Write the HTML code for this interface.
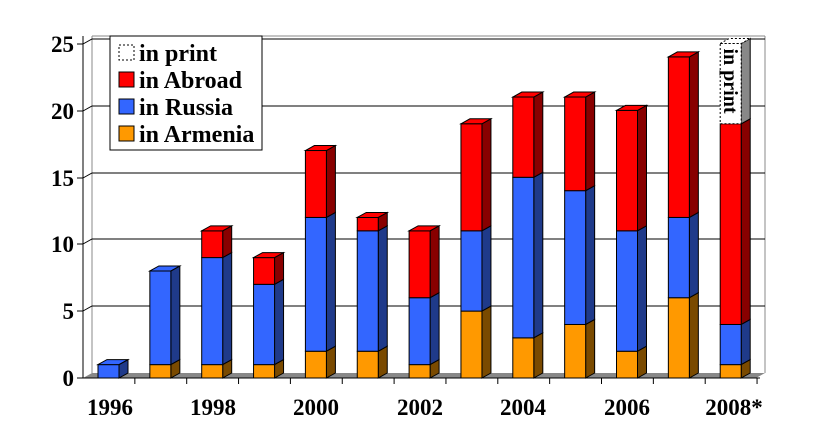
<!DOCTYPE html>
<html><head><style>body{margin:0;background:#fff}svg{display:block}text{font-family:"Liberation Serif",serif;font-weight:bold}</style></head><body>
<svg width="822" height="436" xmlns="http://www.w3.org/2000/svg">
<g stroke="#888" stroke-width="1" fill="none">
<line x1="92" y1="36" x2="92" y2="373"/>
<line x1="92" y1="36" x2="765" y2="36"/>
<line x1="765" y1="36" x2="765" y2="373"/>
</g>
<g stroke="#000" stroke-width="1">
<polyline points="83,44 92,39 765,39" fill="none"/>
<polyline points="83,111 92,106 765,106" fill="none"/>
<polyline points="83,178 92,173 765,173" fill="none"/>
<polyline points="83,244 92,239 765,239" fill="none"/>
<polyline points="83,311 92,306 765,306" fill="none"/>
</g>
<polygon points="83,378 92,373 765,373 756,378" fill="#888"/>
<line x1="83" y1="36" x2="83" y2="378" stroke="#000"/>
<line x1="83" y1="378" x2="760" y2="378" stroke="#000"/>
<g stroke="#000">
<line x1="77" y1="44" x2="83" y2="44"/><line x1="77" y1="111" x2="83" y2="111"/><line x1="77" y1="178" x2="83" y2="178"/><line x1="77" y1="244" x2="83" y2="244"/><line x1="77" y1="311" x2="83" y2="311"/><line x1="77" y1="378" x2="83" y2="378"/>
</g>
<g id="ticks" stroke="#000"></g>
<g font-size="23" text-anchor="end">
<text x="74" y="52">25</text><text x="74" y="119">20</text><text x="74" y="186">15</text><text x="74" y="252">10</text><text x="74" y="319">5</text><text x="74" y="386">0</text>
</g>
<g id="bars"></g>
<g font-size="23" text-anchor="middle">
<text x="110" y="415">1996</text><text x="213" y="415">1998</text><text x="316" y="415">2000</text><text x="420" y="415">2002</text><text x="523" y="415">2004</text><text x="627" y="415">2006</text><text x="734" y="415">2008*</text>
</g>
<rect x="110" y="36" width="152" height="114" fill="#fff" stroke="#000"/>
<rect x="119" y="45" width="15" height="15" fill="#fff" stroke="#000" stroke-dasharray="2,2"/>
<rect x="119" y="72" width="15" height="15" fill="#f00" stroke="#000"/>
<rect x="119" y="99" width="15" height="15" fill="#36f" stroke="#000"/>
<rect x="119" y="126" width="15" height="15" fill="#f90" stroke="#000"/>
<g font-size="24"><text x="139" y="61">in print</text><text x="139" y="88">in Abroad</text><text x="139" y="115">in Russia</text><text x="139" y="142">in Armenia</text></g>
</svg>
<script>
var d=[[0,1,0],[1,7,0],[1,8,2],[1,6,2],[2,10,5],[2,9,1],[1,5,5],[5,6,8],[3,12,6],[4,10,7],[2,9,9],[6,6,12],[1,3,15,6]];
var cols=[["#f90","#7a4a00"],["#36f","#1f3a8a"],["#f00","#800"],["#fff","#888"]];
var s="",t="",u=13.38,z=378,w=21,dx=9,dy=5;
for(var i=0;i<13;i++){var x=98+i*51.85,b=0;
t+='<line x1="'+(83+(i+1)*51.85)+'" y1="378" x2="'+(83+(i+1)*51.85)+'" y2="384"/>';
var last=-1;for(var q=0;q<d[i].length;q++)if(d[i][q])last=q;
for(var k=0;k<d[i].length;k++){var v=d[i][k];if(!v)continue;var y0=z-b*u,y1=z-(b+v)*u;b+=v;
var dash=k==3?' stroke-dasharray="2,2"':'';
s+='<polygon points="'+(x+w)+','+y0+' '+(x+w+dx)+','+(y0-dy)+' '+(x+w+dx)+','+(y1-dy)+' '+(x+w)+','+y1+'" fill="'+cols[k][1]+'" stroke="#000"/>';
s+='<rect x="'+x+'" y="'+y1+'" width="'+w+'" height="'+(y0-y1)+'" fill="'+cols[k][0]+'" stroke="#000"'+dash+'/>';
if(k==last)s+='<polygon points="'+x+','+y1+' '+(x+dx)+','+(y1-dy)+' '+(x+w+dx)+','+(y1-dy)+' '+(x+w)+','+y1+'" fill="'+cols[k][0]+'" stroke="#000"'+dash+'/>';
if(k==3)s+='<text transform="translate('+(x+4)+','+(y1+5)+') rotate(90)" font-size="20">in print</text>';
}}
document.getElementById("bars").innerHTML=s;document.getElementById("ticks").innerHTML=t;
</script>
</body></html>
